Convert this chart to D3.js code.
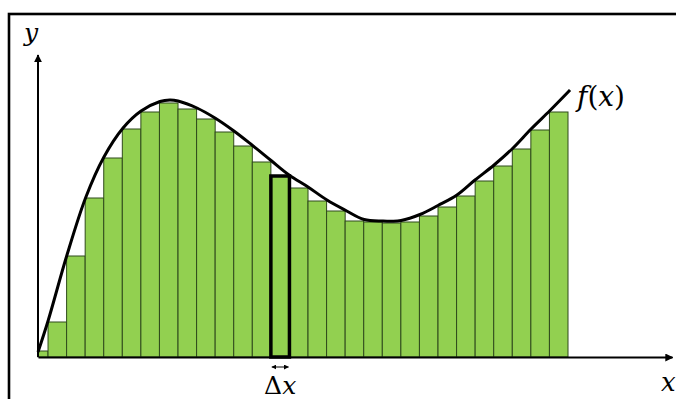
<!DOCTYPE html>
<html>
<head>
<meta charset="utf-8">
<script src="https://cdn.jsdelivr.net/npm/d3@7"></script>
<style>
  html, body { margin: 0; padding: 0; background: #fff; }
  svg { display: block; }
</style>
</head>
<body>
<svg id="chart" width="676" height="399"></svg>
<script>
// ---- data (x in Δx units from the y-axis, y in arbitrary height units) ----
const firstBarWidth = 0.54;           // the narrow first rectangle
const barHeights = [6, 35, 101, 159, 199, 228, 245, 254, 248, 238, 225, 211, 195, 181,
                    169, 156, 146, 136, 135, 134, 135, 141, 150, 161, 176, 191, 208, 227, 245];
const highlightIndex = 13;            // the Δx rectangle
const curveX = [0, 0.54, 1.56, 2.58, 3.55, 4.58, 5.55, 6.57, 7.1, 7.54, 8.56, 9.53, 10.55, 11.52,
                12.55, 13.52, 14.54, 15.56, 16.53, 17.56, 18.58, 19.06, 19.55, 20.57, 21.54,
                22.56, 23.53, 24.56, 25.58, 26.55, 27.57, 28.65];
const curveY = [5, 36, 102, 160, 200, 229, 246, 255.5, 257, 256, 249, 239, 226, 212,
                196.5, 182, 170, 157, 147, 137.5, 136, 135.8, 136.5, 142.5, 151.5,
                162, 177, 192, 209, 228, 246.5, 267];
const labels = { y: "y", x: "x", f: "f", dx: "Δ" };

// ---- layout ----
const svg = d3.select("#chart");
const x = d3.scaleLinear().domain([0, 34.14]).range([38, 672]);
const y = d3.scaleLinear().domain([0, 302]).range([357, 55]);

// frame
svg.append("rect").attr("x", 9).attr("y", 14).attr("width", 700).attr("height", 420)
  .attr("fill", "none").attr("stroke", "#000").attr("stroke-width", 2.6);

// bars
const bars = barHeights.map((h, i) => {
  const left = i === 0 ? 0 : firstBarWidth + (i - 1);
  const w = i === 0 ? firstBarWidth : 1;
  return { left, w, h, i };
});
svg.append("g").selectAll("rect").data(bars).join("rect")
  .attr("x", d => x(d.left))
  .attr("y", d => y(d.h))
  .attr("width", d => x(d.left + d.w) - x(d.left))
  .attr("height", d => y(0) - y(d.h))
  .attr("fill", "#92d050")
  .attr("stroke", "#2f4a1c")
  .attr("stroke-width", 1);

// highlighted bar
const hb = bars[highlightIndex];
svg.append("rect")
  .attr("x", x(hb.left)).attr("y", y(hb.h))
  .attr("width", x(hb.left + hb.w) - x(hb.left)).attr("height", y(0) - y(hb.h))
  .attr("fill", "none").attr("stroke", "#000").attr("stroke-width", 3.5);

// curve
const pts = curveX.map((cx, i) => [cx, curveY[i]]);
svg.append("path").datum(pts)
  .attr("d", d3.line().x(d => x(d[0])).y(d => y(d[1])).curve(d3.curveCatmullRom.alpha(0.5)))
  .attr("fill", "none").attr("stroke", "#000").attr("stroke-width", 3);

// arrow marker
const defs = svg.append("defs");
defs.append("marker").attr("id", "arrow").attr("viewBox", "0 0 10 10")
  .attr("refX", 9).attr("refY", 5).attr("markerWidth", 4).attr("markerHeight", 4)
  .attr("orient", "auto-start-reverse").attr("markerUnits", "strokeWidth")
  .append("path").attr("d", "M0,0 L10,5 L0,10 Z").attr("fill", "#000");
defs.append("marker").attr("id", "small").attr("viewBox", "0 0 10 10")
  .attr("refX", 9).attr("refY", 5).attr("markerWidth", 5).attr("markerHeight", 5)
  .attr("orient", "auto-start-reverse").attr("markerUnits", "strokeWidth")
  .append("path").attr("d", "M0,0 L10,5 L0,10 Z").attr("fill", "#000");

// axes
const xAxis = d3.axisBottom(x).tickValues([]).tickSizeOuter(0);
const yAxis = d3.axisLeft(y).tickValues([]).tickSizeOuter(0);
svg.append("g").attr("transform", `translate(0,${y(0)})`).call(xAxis)
  .select(".domain").attr("stroke", "#000").attr("stroke-width", 2).attr("marker-end", "url(#arrow)");
svg.append("g").attr("transform", `translate(${x(0)},0)`).call(yAxis)
  .select(".domain").attr("stroke", "#000").attr("stroke-width", 2)
  .attr("d", `M0,${y(0)}V${y(302)}`).attr("marker-end", "url(#arrow)");

// Δx double arrow
svg.append("line")
  .attr("x1", x(hb.left) + 1).attr("x2", x(hb.left + hb.w) - 1)
  .attr("y1", 367).attr("y2", 367)
  .attr("stroke", "#000").attr("stroke-width", 1)
  .attr("marker-start", "url(#small)").attr("marker-end", "url(#small)");

// labels
const serif = "'DejaVu Serif', 'Liberation Serif', serif";
svg.append("text").attr("x", 24).attr("y", 41).attr("font-family", serif)
  .attr("font-style", "italic").attr("font-size", 25).text(labels.y);
const ft = svg.append("text").attr("x", 577).attr("y", 106).attr("font-family", serif).attr("font-size", 28);
ft.append("tspan").attr("font-style", "italic").text(labels.f);
ft.append("tspan").text("(");
ft.append("tspan").attr("font-style", "italic").text(labels.x);
ft.append("tspan").text(")");
const dt = svg.append("text").attr("x", x(hb.left + hb.w / 2)).attr("y", 394)
  .attr("text-anchor", "middle").attr("font-family", serif).attr("font-size", 25);
dt.append("tspan").text(labels.dx);
dt.append("tspan").attr("font-style", "italic").text(labels.x);
svg.append("text").attr("x", 661).attr("y", 391).attr("font-family", serif)
  .attr("font-style", "italic").attr("font-size", 26).text(labels.x);
</script>
</body>
</html>
